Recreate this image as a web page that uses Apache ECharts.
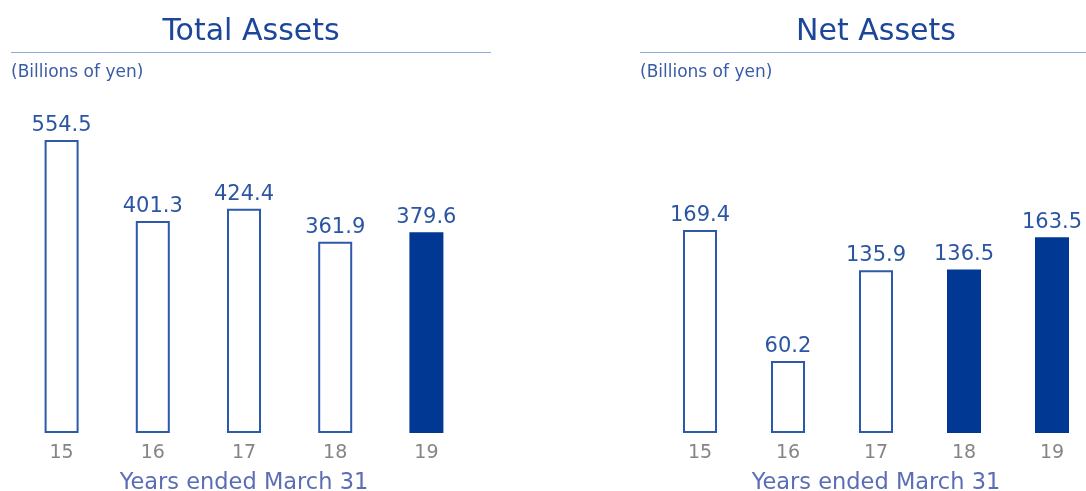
<!DOCTYPE html>
<html>
<head>
<meta charset="utf-8">
<script src="https://cdn.jsdelivr.net/npm/echarts@6/dist/echarts.min.js"></script>
<style>
  html, body { margin: 0; padding: 0; background: #fff; }
  #main { width: 1086px; height: 491px; }
</style>
</head>
<body>
<div id="main"></div>
<script>
const years = ['15', '16', '17', '18', '19'];
const totalAssets = [554.5, 401.3, 424.4, 361.9, 379.6];
const netAssets = [169.4, 60.2, 135.9, 136.5, 163.5];
// which bars are drawn solid
const totalFilled = [false, false, false, false, true];
const netFilled = [false, false, false, true, true];

const FONT = 'DejaVu Sans';
const OUTLINE = '#2d5aa8';
const SOLID = '#003893';

const barData = (vals, filled) => vals.map((v, i) => ({
  value: v,
  itemStyle: filled[i]
    ? { color: SOLID, borderColor: SOLID, borderWidth: 2 }
    : { color: '#fff', borderColor: OUTLINE, borderWidth: 2 }
}));

const xAxisOf = (gi) => ({
  type: 'category',
  gridIndex: gi,
  data: years,
  axisLine: { show: false },
  axisTick: { show: false },
  axisLabel: { color: '#858585', fontFamily: FONT, fontSize: 19, margin: 11 },
  name: 'Years ended March 31',
  nameLocation: 'middle',
  nameGap: 39,
  nameTextStyle: { color: '#5b6db4', fontFamily: FONT, fontSize: 22.5 }
});

const titleStyle = { color: '#1c4699', fontFamily: FONT, fontSize: 30, fontWeight: 'normal' };
const subStyle = { color: '#3a5ca8', fontFamily: FONT, fontSize: 17, fontWeight: 'normal' };
const labelOpt = {
  show: true, position: 'top', distance: 4, color: '#2b55a3',
  fontFamily: FONT, fontSize: 21, formatter: (p) => p.value.toFixed(1)
};

const chart = echarts.init(document.getElementById('main'), null, { renderer: 'canvas' });
chart.setOption({
  animation: false,
  title: [
    { text: 'Total Assets', left: 251, top: 17, padding: 0, textAlign: 'center', textStyle: titleStyle },
    { text: 'Net Assets', left: 876, top: 17, padding: 0, textAlign: 'center', textStyle: titleStyle },
    { text: '(Billions of yen)', left: 11, top: 64, padding: 0, textStyle: subStyle },
    { text: '(Billions of yen)', left: 640, top: 64, padding: 0, textStyle: subStyle }
  ],
  graphic: [
    { type: 'line', shape: { x1: 11, y1: 52.5, x2: 491, y2: 52.5 }, style: { stroke: '#8eaae0', lineWidth: 1 } },
    { type: 'line', shape: { x1: 640, y1: 52.5, x2: 1086, y2: 52.5 }, style: { stroke: '#8eaae0', lineWidth: 1 } }
  ],
  grid: [
    { left: 16, width: 456, top: 100, bottom: 58, outerBoundsMode: 'none', containLabel: false },
    { left: 656, width: 440, top: 100, bottom: 58, outerBoundsMode: 'none', containLabel: false }
  ],
  xAxis: [xAxisOf(0), xAxisOf(1)],
  yAxis: [
    { type: 'value', gridIndex: 0, min: 0, max: 630, show: false, splitLine: { show: false } },
    { type: 'value', gridIndex: 1, min: 0, max: 278, show: false, splitLine: { show: false } }
  ],
  series: [
    { type: 'bar', xAxisIndex: 0, yAxisIndex: 0, barWidth: 34, data: barData(totalAssets, totalFilled), label: labelOpt },
    { type: 'bar', xAxisIndex: 1, yAxisIndex: 1, barWidth: 34, data: barData(netAssets, netFilled), label: labelOpt }
  ]
});
</script>
</body>
</html>
